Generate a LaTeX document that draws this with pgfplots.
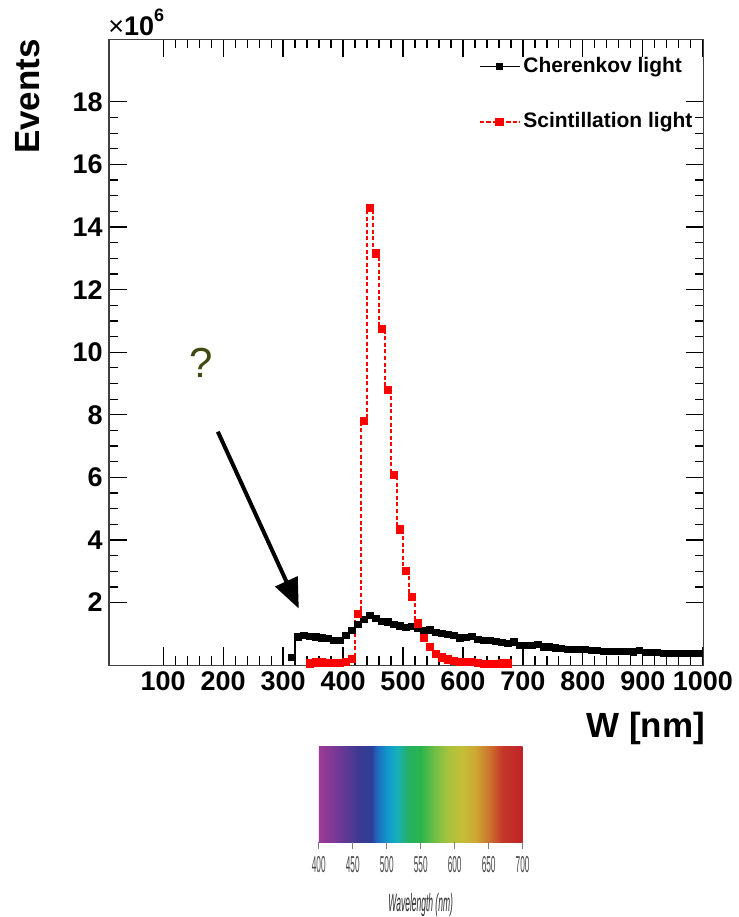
\documentclass[border=0pt]{standalone}
\usepackage{pgfplots}
\pgfplotsset{compat=1.18}
\usepackage{pgfplotstable}
\usepackage{fontspec}
\setmainfont{Liberation Sans}
\usepackage{graphicx}
\usetikzlibrary{arrows.meta}

\definecolor{qcol}{RGB}{64,72,16}
\definecolor{rootred}{RGB}{255,0,0}
\definecolor{s400}{RGB}{158,58,152}
\definecolor{s430}{RGB}{112,56,148}
\definecolor{s460}{RGB}{58,58,146}
\definecolor{s478}{RGB}{46,62,150}
\definecolor{s485}{RGB}{30,104,190}
\definecolor{s500}{RGB}{18,150,202}
\definecolor{s515}{RGB}{22,176,190}
\definecolor{s530}{RGB}{36,176,104}
\definecolor{s550}{RGB}{42,180,76}
\definecolor{s570}{RGB}{112,190,70}
\definecolor{s590}{RGB}{168,194,60}
\definecolor{s610}{RGB}{196,190,56}
\definecolor{s630}{RGB}{206,168,50}
\definecolor{s650}{RGB}{204,118,46}
\definecolor{s670}{RGB}{196,56,40}
\definecolor{s700}{RGB}{190,34,40}
\definecolor{wgray}{RGB}{70,70,70}

\pgfdeclarehorizontalshading{spectrum}{100bp}{color(0bp)=(s400); color(25bp)=(s400); color(30bp)=(s430); color(35bp)=(s460); color(38bp)=(s478); color(39.2bp)=(s485); color(41.67bp)=(s500); color(44.17bp)=(s515); color(46.67bp)=(s530); color(50bp)=(s550); color(53.33bp)=(s570); color(56.67bp)=(s590); color(60bp)=(s610); color(63.33bp)=(s630); color(66.67bp)=(s650); color(70bp)=(s670); color(75bp)=(s700); color(100bp)=(s700)}

% values in units of 10^6 events
\pgfplotstableread{
w n
315 0.25
325 0.90
335 0.94
345 0.92
355 0.90
365 0.87
375 0.85
385 0.78
395 0.80
405 0.95
415 1.10
425 1.30
435 1.45
445 1.58
455 1.48
465 1.40
475 1.38
485 1.30
495 1.25
505 1.20
515 1.23
525 1.16
535 1.10
545 1.12
555 1.03
565 1.00
575 0.97
585 0.95
595 0.87
605 0.88
615 0.92
625 0.82
635 0.78
645 0.78
655 0.76
665 0.73
675 0.70
685 0.74
695 0.64
705 0.62
715 0.63
725 0.66
735 0.58
745 0.58
755 0.55
765 0.53
775 0.51
785 0.51
795 0.50
805 0.49
815 0.47
825 0.46
835 0.44
845 0.44
855 0.43
865 0.43
875 0.43
885 0.42
895 0.46
905 0.41
915 0.41
925 0.40
935 0.38
945 0.38
955 0.37
965 0.37
975 0.37
985 0.37
995 0.38
}\cherenkov

\pgfplotstableread{
w n
345 0.05
355 0.08
365 0.08
375 0.07
385 0.06
395 0.06
405 0.10
415 0.20
425 1.64
435 7.80
445 14.60
455 13.15
465 10.75
475 8.80
485 6.08
495 4.33
505 3.00
515 2.17
525 1.33
535 0.87
545 0.57
555 0.36
565 0.25
575 0.18
585 0.13
595 0.10
605 0.10
615 0.10
625 0.07
635 0.04
645 0.04
655 0.04
665 0.05
675 0.05
}\scint

\begin{document}
\begin{tikzpicture}
\begin{scope}[x=0.5pt,y=-0.5pt]
\useasboundingbox (0,0) rectangle (739,917);
\end{scope}

\begin{axis}[
  at={(54.5pt,-332.8pt)}, anchor=south west,
  scale only axis, width=297.65pt, height=313.15pt,
  xmin=9.5, xmax=1001.7, ymin=0, ymax=20,
  xtick={100,200,...,1000}, minor x tick num=4,
  ytick={2,4,...,18}, minor y tick num=3,
  tick align=inside,
  major tick length=9pt, minor tick length=4.5pt,
  every tick/.style={black, line width=0.6pt},
  axis line style={line width=0.6pt, black!75},
  /pgf/number format/assume math mode=true,
  /pgf/number format/1000 sep={},
  scaled ticks=false,
  tick label style={font=\fontsize{13.5}{13.5}\selectfont\bfseries, inner sep=3pt},
  legend style={draw=none, fill=none, at={(0.611,0.912)}, anchor=west,
    font=\fontsize{10.5}{12}\selectfont\bfseries, row sep=14pt,
    nodes={inner sep=1.5pt, text height=8pt, text depth=2.5pt}},
  legend cell align=left,
  legend image code/.code={\draw[mark repeat=2,mark phase=2,#1] plot coordinates {(0pt,0pt) (10pt,0pt) (20pt,0pt)};},
]
\addplot[const plot mark mid, color=black, draw=black, line width=0.6pt, mark=square*, mark size=1.5pt, mark options={solid, fill=black, draw=black}]
  table[x=w,y=n] {\cherenkov};
\addlegendentry{Cherenkov light}
\addplot[const plot mark mid, color=rootred, draw=rootred, line width=0.8pt, dash pattern=on 2pt off 1.3pt, mark=square*, mark size=1.7pt, mark options={solid, fill=rootred, draw=rootred}]
  table[x=w,y=n] {\scint};
\addlegendentry{Scintillation light}
\end{axis}

\begin{scope}[x=0.5pt,y=-0.5pt]
  % axis titles
  \node[rotate=90, anchor=center, font=\fontsize{17.5}{17.5}\selectfont\bfseries] at (27.5,96.5) {Events};
  \node[anchor=base east, font=\fontsize{17.5}{17.5}\selectfont\bfseries, inner sep=0pt] at (706,738) {W [nm]};
  \node[anchor=base west, inner sep=0pt] at (108,36) {\fontsize{13.5}{13.5}\selectfont ×\textbf{10}\raisebox{7pt}{\fontsize{9}{9}\selectfont\textbf{6}}};
  % annotation
  \node[text=qcol, font=\fontsize{21}{21}\selectfont] at (201,363) {?};
  \draw[line width=2pt, -{Triangle[length=15pt, width=12pt]}] (218,432) -- (299,609);
  % spectrum strip
  \shade[shading=spectrum] (319,747) rectangle (523,843);
  \foreach \k/\lab in {0/400,1/450,2/500,3/550,4/600,5/650,6/700} {
    \draw[wgray!70, line width=0.4pt] ({319+34*\k},843) -- ({319+34*\k},850);
    \node[text=wgray, anchor=center, inner sep=0pt] at ({319+34*\k},865) {\scalebox{0.36}[1]{\fontsize{11.5}{11.5}\selectfont \lab}};
  }
  \node[text=black!85, anchor=center, inner sep=0pt] at (421,906) {\scalebox{0.34}[1]{\fontsize{12.5}{12.5}\selectfont\itshape Wavelength (nm)}};
\end{scope}
\end{tikzpicture}
\end{document}
